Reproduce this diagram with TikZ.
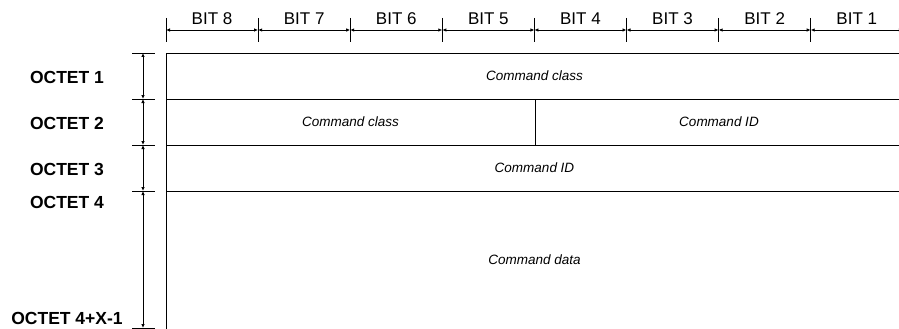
\documentclass[tikz,border=0pt]{standalone}
\usepackage{fontspec}
\setmainfont{Liberation Sans}
\usetikzlibrary{arrows.meta}

\tikzset{
  dim/.style={{Latex[length=4pt,width=3.5pt]}-{Latex[length=4pt,width=3.5pt]}},
  bitlabel/.style={font=\fontsize{17}{20}\selectfont, anchor=base, inner sep=0pt},
  octet/.style={font=\fontsize{17.5}{20}\selectfont\bfseries, anchor=base, inner sep=0pt},
  field/.style={font=\fontsize{13.5}{16}\selectfont\itshape},
}

\begin{document}
\begin{tikzpicture}[x=1pt, y=-1pt, line width=0.8pt]
    \clip (0,0) rectangle (899,329);
    % bit ruler
    \foreach \i in {0,...,8} {
      \coordinate (t\i) at ({166+92.1*\i},30);
      \draw ({166+92.1*\i},18) -- ({166+92.1*\i},42);
    }
    \foreach \i [evaluate=\i as \j using int(\i+1), evaluate=\i as \b using int(8-\i)] in {0,...,7}
      \draw[dim] (t\i) -- (t\j) node[midway, bitlabel, yshift=5pt] (bit\b) {BIT \b};
    % octet ruler
    \foreach \y [count=\k from 0] in {53,99,145,191,328} {
      \coordinate (o\k) at (143,\y);
      \draw (132,\y) -- (155,\y);
    }
    \foreach \i [evaluate=\i as \j using int(\i+1)] in {0,...,3}
      \draw[dim] (o\i) -- (o\j);
    \node[octet] (oct1) at (67,83) {OCTET 1};
    \node[octet] (oct2) at (67,129) {OCTET 2};
    \node[octet] (oct3) at (67,175) {OCTET 3};
    \node[octet] (oct4) at (67,208) {OCTET 4};
    \node[octet] (octx) at (67,324) {OCTET 4+X-1};
    % frame
    \draw (166,329) -- (166,53) -- (903,53);
    \draw (166,99) -- (903,99);
    \draw (166,145) -- (903,145);
    \draw (166,191) -- (903,191);
    \draw (535,99) -- (535,145);
    % fields
    \node[field] (class1) at (534.5,76) {Command class};
    \node[field] (class2) at (350.5,122) {Command class};
    \node[field] (id1) at (719,122) {Command ID};
    \node[field] (id2) at (534.5,168) {Command ID};
    \node[field] (data) at (534.5,260) {Command data};
\end{tikzpicture}
\end{document}
